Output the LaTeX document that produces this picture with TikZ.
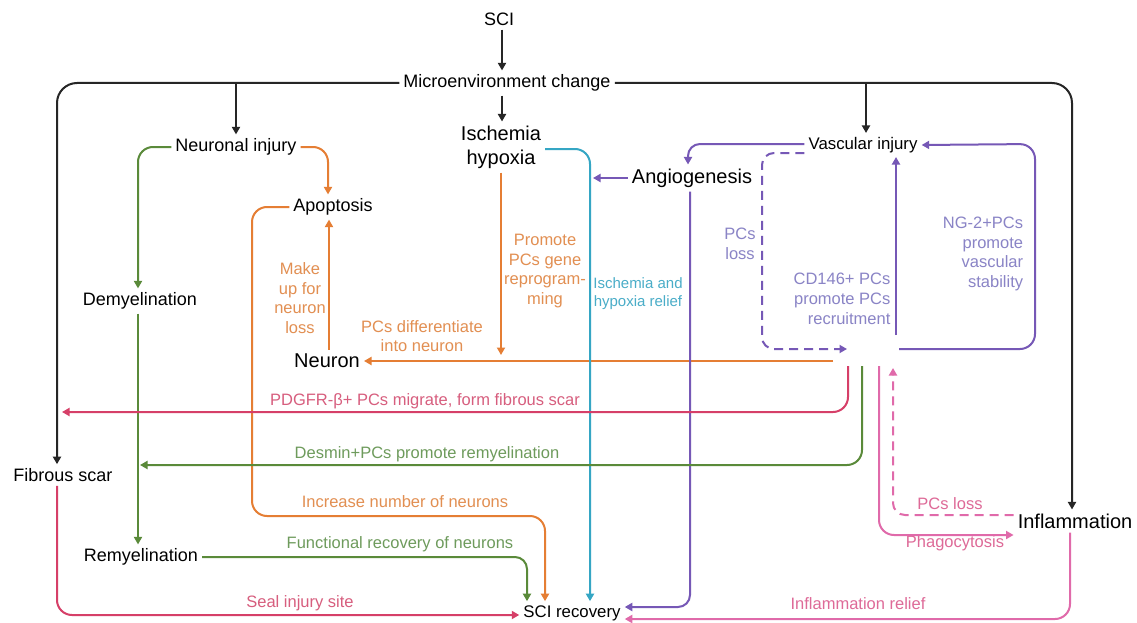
\documentclass[tikz,border=0pt]{standalone}
\usepackage{fontspec}
\setmainfont{Liberation Sans}
\usetikzlibrary{arrows.meta}
\definecolor{blk}{HTML}{262626}
\definecolor{orL}{HTML}{E57E34}
\definecolor{orT}{HTML}{E28F52}
\definecolor{grL}{HTML}{5A8A3A}
\definecolor{grT}{HTML}{6E9B5C}
\definecolor{teL}{HTML}{35A6C4}
\definecolor{teT}{HTML}{4AADC8}
\definecolor{puL}{HTML}{7658B6}
\definecolor{puT}{HTML}{8A84C6}
\definecolor{crL}{HTML}{D63F68}
\definecolor{crT}{HTML}{D75E7E}
\definecolor{piL}{HTML}{E06AAA}
\definecolor{piT}{HTML}{DE6A98}
\begin{document}
\begin{tikzpicture}[x=1pt,y=-1pt,
  >={Triangle[length=7.5pt,width=8pt]},
  lbl/.style={inner sep=4pt, font=\fontsize{18}{21}\selectfont, text=black},
  big/.style={inner sep=4pt, font=\fontsize{20}{23}\selectfont, text=black},
  sml/.style={inner sep=4pt, font=\fontsize{16.8}{19}\selectfont, text=black},
  cl/.style={inner sep=0pt, font=\fontsize{16.5}{19.5}\selectfont, align=center},
  ln/.style={line width=2pt},
  bk/.style={ln, draw=blk},
  ol/.style={ln, draw=orL},
  gl/.style={ln, draw=grL},
  tl/.style={ln, draw=teL},
  pl/.style={ln, draw=puL},
  rl/.style={ln, draw=crL},
  kl/.style={ln, draw=piL},
  dsh/.style={dash pattern=on 9pt off 6pt}
]
\fill[white] (0,0) rectangle (1137,623);
\useasboundingbox (0,0) rectangle (1137,623);

% nodes
\node[lbl] (sci) at (499,19) {SCI};
\node[lbl] (micro) at (507,83) {Microenvironment change};
\node[lbl] (neuinj) at (236,147) {Neuronal injury};
\node[big, align=center, font=\fontsize{20}{24}\selectfont] (isch) at (501,147) {Ischemia\\hypoxia};
\node[sml] (vasc) at (863,145) {Vascular injury};
\node[big] (angio) at (692,178) {Angiogenesis};
\node[lbl] (apop) at (333,207) {Apoptosis};
\node[lbl] (demy) at (140,301) {Demyelination};
\node[big] (neuron) at (327,361) {Neuron};
\node[lbl] (fscar) at (63,475) {Fibrous scar};
\node[lbl] (remy) at (141,557) {Remyelination};
\node[sml] (screc) at (572,613) {SCI recovery};
\node[big] (infl) at (1075,521) {Inflammation};

% hub coordinates (PCs)
\coordinate (hubO) at (833,361);
\coordinate (hubC) at (848,366);
\coordinate (hubG) at (862,366);
\coordinate (hubP) at (879,366);
\coordinate (hubQ) at (893,368);
\coordinate (hubD) at (847,349);
\coordinate (pcU) at (896,335);
\coordinate (pcR) at (899,349);
\coordinate (tealx) at (591,0);
\coordinate (arrx) at (502,0);
\coordinate (scarEnd) at (62,412);
\coordinate (remEnd) at (140,465);

% labels
\node[cl, text=orT] (l1) at (300,298) {Make\\up for\\neuron\\loss};
\node[cl, text=orT] (l2) at (422,336) {PCs differentiate\\into neuron};
\node[cl, text=orT] (l3) at (545,271) {Promote\\PCs gene\\reprogram-\\ming};
\node[cl, text=teT, font=\fontsize{15}{18}\selectfont] (l4) at (638,294) {Ischemia and\\hypoxia relief};
\node[cl, text=puT] (l5) at (740,244) {PCs\\loss};
\node[cl, text=puT, font=\fontsize{16.5}{20}\selectfont, align=right] (l6) at (842,299) {CD146+ PCs\\promote PCs\\recruitment};
\node[cl, text=puT, align=right] (l7) at (983,254) {NG-2+PCs\\promote\\vascular\\stability};
\node[cl, text=crT] (l8) at (425,401) {PDGFR-β+ PCs migrate, form fibrous scar};
\node[cl, text=grT] (l9) at (427,454) {Desmin+PCs promote remyelination};
\node[cl, text=orT] (l10) at (405,502) {Increase number of neurons};
\node[cl, text=grT] (l11) at (400,544) {Functional recovery of neurons};
\node[cl, text=crT] (l12) at (300,603) {Seal injury site};
\node[cl, text=piT] (l13) at (858,604) {Inflammation relief};
\node[cl, text=piT] (l14) at (950,504) {PCs loss};
\node[cl, text=piT] (l15) at (955,543) {Phagocytosis};

% black connectors
\draw[bk,->] (sci.south -| arrx) -- (micro.north -| arrx);
\draw[bk,->,rounded corners=20pt] (micro.west) -| ([xshift=-6pt]fscar.north);
\draw[bk,->,rounded corners=20pt] (micro.east) -| ([xshift=-3pt]infl.north);
\draw[bk,->] (neuinj |- micro.west) -- (neuinj.north);
\draw[bk,->] (micro.south -| arrx) -- (isch.north -| arrx);
\draw[bk,->] ([xshift=3pt]vasc.north |- micro.east) -- ([xshift=3pt]vasc.north);

% neuronal injury
\draw[gl,->,rounded corners=15pt] (neuinj.west) -| ([xshift=-2pt]demy.north);
\draw[gl,->] ([xshift=-2pt]demy.south) -- ([xshift=-3pt]remy.north);
\draw[ol,->,rounded corners=15pt] (neuinj.east) -| ([xshift=-5pt]apop.north);
\draw[ol,->,rounded corners=15pt] (apop.west) -| (252,516) -| ([xshift=-27pt]screc.north);
\draw[ol,->] ([xshift=2pt]neuron.north) -- ([xshift=2pt]neuron.north |- apop.south);
\draw[ol,->] (hubO) -- (neuron.east);
\draw[ol,->] (isch.south) -- ([yshift=6pt]isch.south |- hubO);

% ischemia teal
\draw[tl,->,rounded corners=15pt] ([yshift=-2pt]isch.east) -| ([xshift=18pt]screc.north);

% angiogenesis / vascular
\draw[pl,->] (angio.west) -- ([xshift=2pt]angio.west -| tealx);
\draw[pl,->,rounded corners=12pt] ([yshift=1pt]vasc.west) -| ([xshift=-4pt]angio.north);
\draw[pl,->,rounded corners=12pt] ([xshift=-2pt]angio.south) |- ([yshift=6pt]screc.east);
\draw[pl,dsh,->,rounded corners=12pt] ([yshift=-8pt]vasc.west) -| (762,349) -- (hubD);
\draw[pl,->] (pcU) -- (pcU |- vasc.south);
\draw[pl,->,rounded corners=15pt] (pcR) -- (1035,349) -- (1035,144) -- (vasc.east);

% hub outgoing
\draw[rl,->,rounded corners=15pt] (hubC) |- (scarEnd);
\draw[gl,->,rounded corners=15pt] (hubG) |- (remEnd);
\draw[kl,->,rounded corners=15pt] (hubP) |- ([yshift=-14pt]infl.west);
\draw[kl,dsh,->,rounded corners=12pt] ([yshift=6pt]infl.west) -| (hubQ);

% to SCI recovery
\draw[rl,->,rounded corners=15pt] ([xshift=-6pt]fscar.south) |- ([yshift=-2pt]screc.west);
\draw[gl,->,rounded corners=12pt] (remy.east) -| ([xshift=-45pt]screc.north);
\draw[kl,->,rounded corners=15pt] ([xshift=-5pt]infl.south) |- ([yshift=-6pt]screc.east);
\end{tikzpicture}
\end{document}
